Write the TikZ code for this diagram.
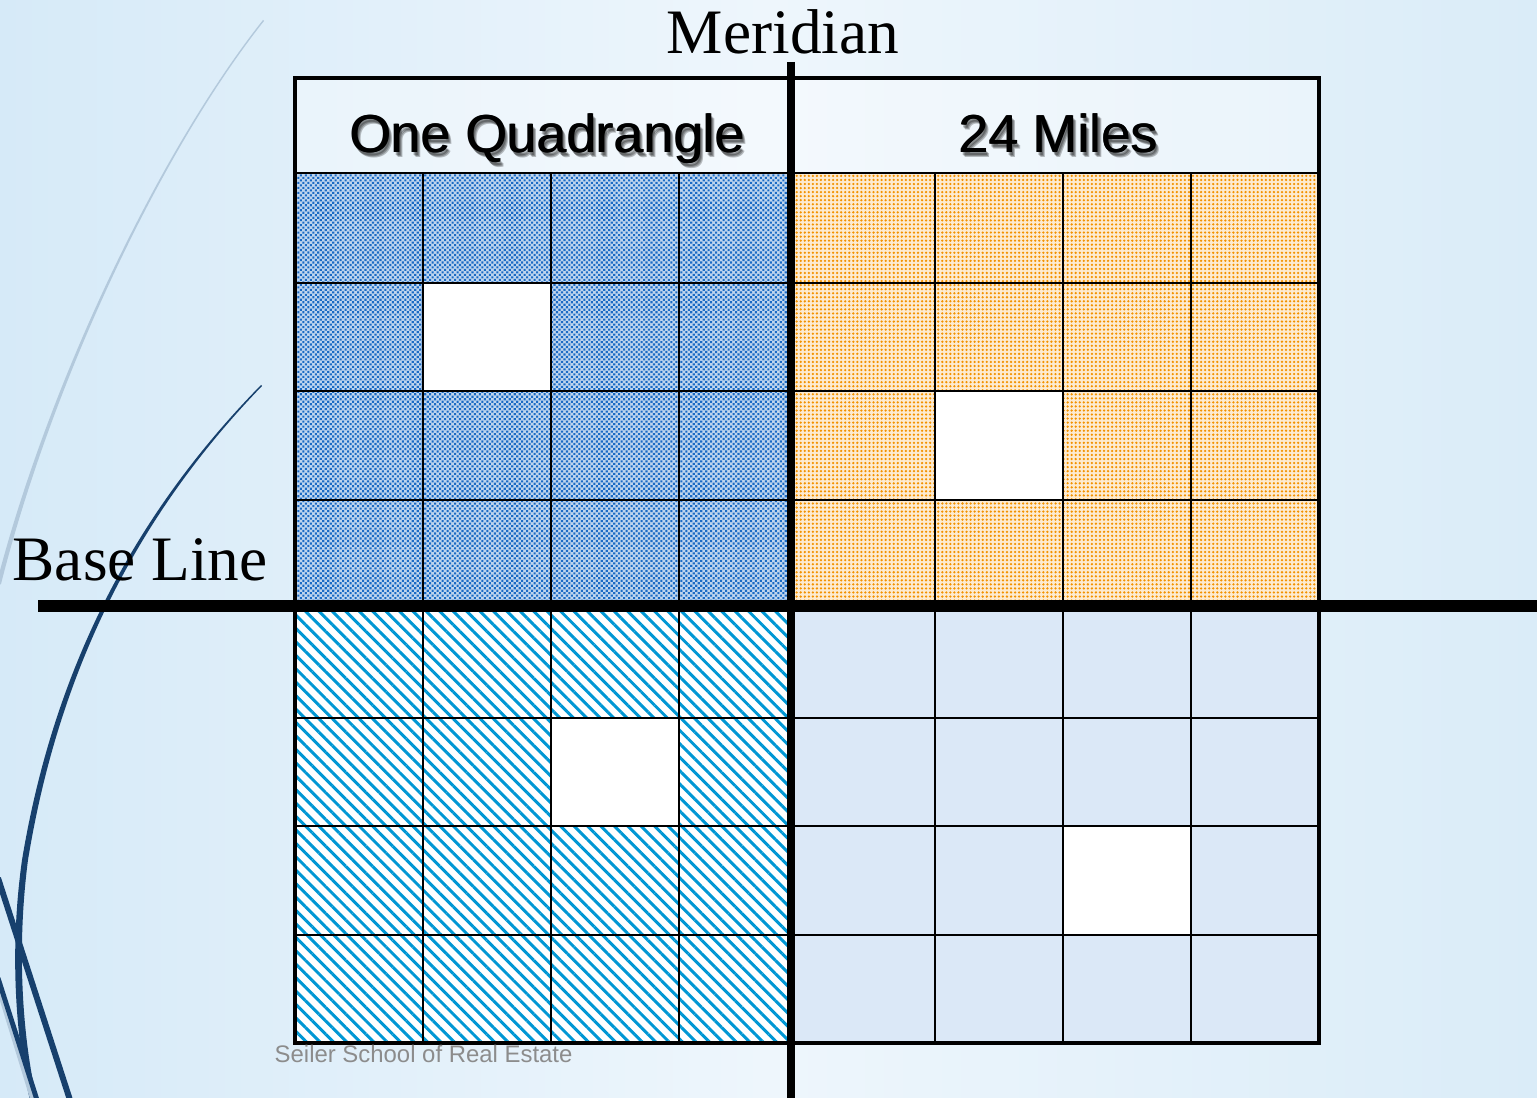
\documentclass[tikz,border=0pt]{standalone}
\usepackage{fontspec}
\setmainfont{Liberation Serif}
\newfontfamily\arialfont{Liberation Sans}
\usetikzlibrary{patterns.meta}
\definecolor{bgL}{HTML}{D6EAF8}
\definecolor{bgM}{HTML}{EEF6FC}
\definecolor{bgR}{HTML}{DAECF8}
\definecolor{navy}{HTML}{17406D}
\definecolor{pale}{HTML}{B3C9DC}
\definecolor{checkblue}{HTML}{1A6AC4}
\definecolor{dotorange}{HTML}{F39200}
\definecolor{stripecyan}{HTML}{0097D4}
\definecolor{iceblue}{HTML}{DBE8F7}
\definecolor{footgray}{HTML}{8C8C8C}
\tikzset{
  gridline/.style={line width=0.7pt, black},
  framebox/.style={line width=1.4pt, black},
  axisline/.style={black},
  headtext/.style={font=\arialfont\fontsize{15.2}{17}\selectfont, anchor=base, inner sep=0pt},
  headshadow/.style={headtext, text=black, opacity=0.25},
  serifbig/.style={font=\fontsize{18}{20}\selectfont, inner sep=0pt},
  whitecell/.style={fill=white},
}
\begin{document}
\begin{tikzpicture}[x=0.01cm,y=-0.01cm]
\useasboundingbox (0,0) rectangle (1537,1098);
% background
\shade[left color=bgL, right color=bgR, middle color=bgM] (0,0) rectangle (1537,1098);
% decorative curves
\fill[pale] (263,20) .. controls (160,150) and (50,380) .. (-2,578)
  -- (-2,586) -- (1,584) .. controls (52,382) and (161,151) .. (264,21) -- cycle;
\fill[navy] (261,385) .. controls (149,499) and (57,649) .. (22,860)
  .. controls (8,960) and (18,1050) .. (30,1100) -- (37,1100)
  .. controls (25,1050) and (15,960) .. (28,860)
  .. controls (62,651) and (151,501) .. (262,386) -- cycle;
\draw[navy, line width=1.7pt] (-2,878) -- (70,1100);
\draw[pale, line width=1.4pt] (-2,986) -- (33,1100);
\draw[navy, line width=1.4pt] (-2,978) -- (37,1100);
% header area
\fill[white, opacity=0.35] (295,78) rectangle (1319,173);
% quadrant fills
\fill[checkblue!28!white] (295,173) rectangle (791,605);
\fill[pattern={Dots[distance=1pt, radius=0.42pt, angle=45]}, pattern color=checkblue] (295,173) rectangle (791,605);
\fill[dotorange!18!white] (791,173) rectangle (1319,605);
\fill[pattern={Dots[distance=1.15pt, radius=0.36pt]}, pattern color=dotorange] (791,173) rectangle (1319,605);
\fill[white] (295,605) rectangle (791,1043);
\fill[pattern={Lines[angle=-45, distance=2.7pt, line width=0.85pt]}, pattern color=stripecyan] (295,605) rectangle (791,1043);
\fill[iceblue] (791,605) rectangle (1319,1043);
% white cells
\fill[whitecell] (423,283) rectangle (551,391);
\fill[whitecell] (935,391) rectangle (1063,500);
\fill[whitecell] (551,718) rectangle (679,826);
\fill[whitecell] (1063,826) rectangle (1191,935);
% grid
\foreach \xx in {423,551,679,935,1063,1191} \draw[gridline] (\xx,173) -- (\xx,1043);
\foreach \yy in {173,283,391,500,718,826,935} \draw[gridline] (295,\yy) -- (1319,\yy);
% frame
\draw[framebox] (295,78) rectangle (1319,1043);
% axes
\draw[axisline, line width=2.3pt] (791,62) -- (791,1098);
\draw[axisline, line width=3.2pt] (38,606) -- (1537,606);
% texts
\node[serifbig, anchor=base] (meridian) at (783,54) {Meridian};
\node[serifbig, anchor=base west] (baseline) at (12,581) {Base Line};
\node[headshadow] (quadshadowa) at (549,156) {One Quadrangle};
\node[headshadow] (quadshadowb) at (550,157) {One Quadrangle};
\node[headshadow] (quadshadowc) at (551,158) {One Quadrangle};
\node[headtext] (quadb) at (547.8,153) {One Quadrangle};
\node[headtext] (quad) at (547,153) {One Quadrangle};
\node[headshadow] (milesshadowa) at (1060,156) {24 Miles};
\node[headshadow] (milesshadowb) at (1061,157) {24 Miles};
\node[headshadow] (milesshadowc) at (1062,158) {24 Miles};
\node[headtext] (milesb) at (1058.8,153) {24 Miles};
\node[headtext] (miles) at (1058,153) {24 Miles};
\node[font=\arialfont\fontsize{6.8}{8}\selectfont, text=footgray, anchor=base west, inner sep=0pt] (footer) at (274,1062) {Seiler School of Real Estate};
\end{tikzpicture}
\end{document}
